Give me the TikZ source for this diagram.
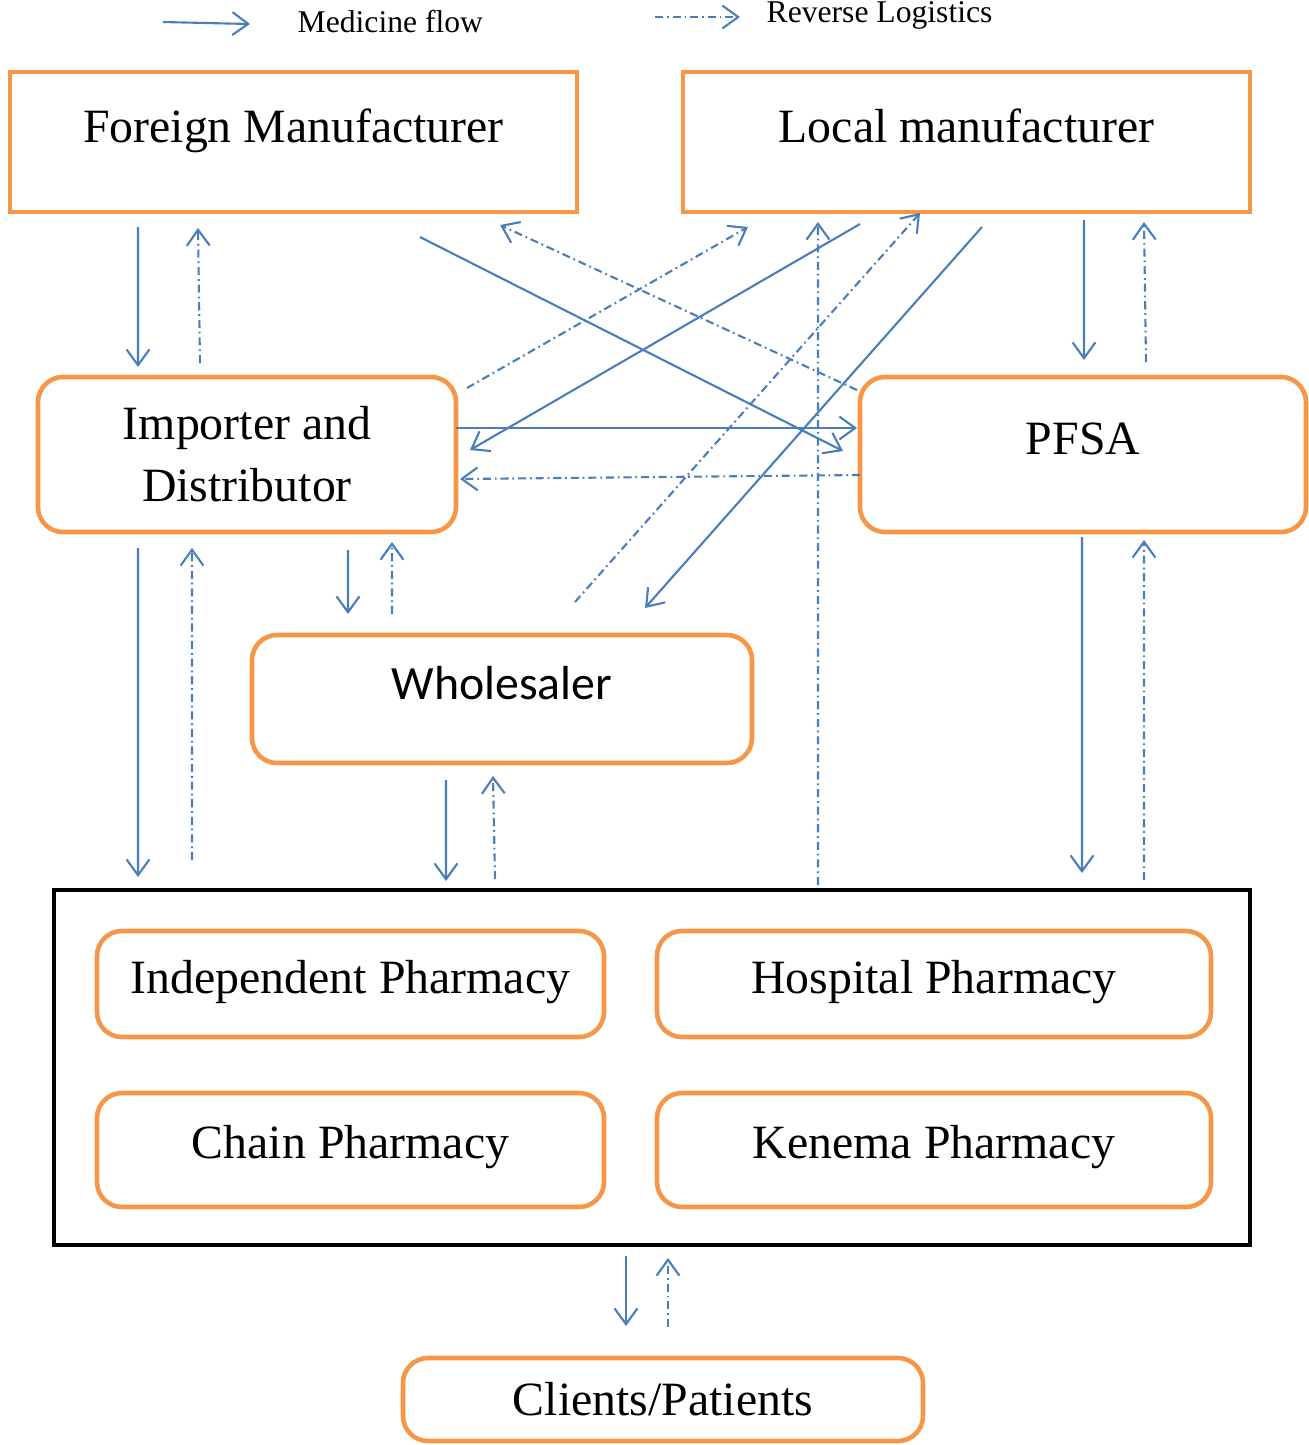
\documentclass[tikz,border=0pt]{standalone}
\usepackage{fontspec}
\setmainfont{Liberation Serif}
\newfontfamily\wsfont{Carlito}
\usetikzlibrary{arrows.meta}
\definecolor{boxorange}{HTML}{F79646}
\definecolor{flowblue}{HTML}{4A7EBB}
\begin{document}
\begin{tikzpicture}[
  box/.style={draw=boxorange, line width=1.3pt, rectangle, inner sep=0pt, outer sep=0pt, font=\fontsize{13.6}{17.6}\selectfont},
  roundbox/.style={box, rounded corners=0.25cm},
  flow/.style={flowblue, line width=0.6pt, -{Straight Barb[length=4.5pt,width=6.5pt]}},
  back/.style={flow, dash pattern=on 2.3pt off 1.1pt on 0.5pt off 1.1pt},
  legend/.style={inner sep=0pt, font=\fontsize{9}{11}\selectfont}]
  \useasboundingbox (0,0) rectangle (13.09,-14.45);

  \node[legend, anchor=west] (legflow) at (2.97,-0.22) {Medicine flow};
  \node[legend, anchor=west] (legrev) at (7.66,-0.15) {Reverse Logistics};
  \draw[flow] ([xshift=-1.34cm,yshift=0.0cm]legflow.west) -- ([xshift=-0.47cm,yshift=-0.02cm]legflow.west);
  \draw[back] ([xshift=-1.11cm,yshift=-0.02cm]legrev.west) -- ([xshift=-0.26cm,yshift=-0.02cm]legrev.west);

  \node[box, minimum width=5.67cm, minimum height=1.40cm, text height=9.5pt, text depth=9.5pt] (fm) at (2.935,-1.42) {Foreign Manufacturer};
  \node[box, minimum width=5.67cm, minimum height=1.40cm, text height=9.5pt, text depth=9.5pt] (lm) at (9.665,-1.42) {Local manufacturer};
  \node[roundbox, minimum width=4.18cm, minimum height=1.55cm, align=center] (imp) at (2.47,-4.545) {Importer and\\Distributor};
  \node[roundbox, minimum width=4.46cm, minimum height=1.55cm, text depth=9pt] (pfsa) at (10.83,-4.545) {PFSA};
  \node[roundbox, minimum width=5.00cm, minimum height=1.28cm, text depth=9pt, font=\wsfont\fontsize{13.6}{16}\selectfont] (whl) at (5.02,-6.99) {Wholesaler};

  \node[draw=black, line width=1.2pt, minimum width=11.96cm, minimum height=3.55cm, inner sep=0pt, outer sep=0pt] (shops) at (6.52,-10.675) {};
  \node[roundbox, minimum width=5.07cm, minimum height=1.06cm, text depth=4pt] (indep) at (3.505,-9.84) {Independent Pharmacy};
  \node[roundbox, minimum width=5.54cm, minimum height=1.06cm, text depth=4pt] (hosp) at (9.34,-9.84) {Hospital Pharmacy};
  \node[roundbox, minimum width=5.07cm, minimum height=1.14cm, text depth=4.5pt] (chain) at (3.505,-11.50) {Chain Pharmacy};
  \node[roundbox, minimum width=5.54cm, minimum height=1.14cm, text depth=4.5pt] (kenema) at (9.34,-11.50) {Kenema Pharmacy};
  \node[roundbox, minimum width=5.20cm, minimum height=0.83cm] (clients) at (6.63,-13.995) {Clients/Patients};

  \draw[flow] ([xshift=1.28cm,yshift=-0.15cm]fm.south west) -- ([xshift=1.00cm,yshift=0.10cm]imp.north west);
  \draw[back] ([xshift=1.62cm,yshift=0.14cm]imp.north west) -- ([xshift=1.88cm,yshift=-0.16cm]fm.south west);
  \draw[flow] ([xshift=4.10cm,yshift=-0.25cm]fm.south west) -- ([xshift=-0.17cm,yshift=0.035cm]pfsa.west);
  \draw[back] ([xshift=-0.03cm,yshift=-0.13cm]pfsa.north west) -- ([xshift=4.90cm,yshift=-0.13cm]fm.south west);
  \draw[back] ([xshift=0.11cm,yshift=-0.11cm]imp.north east) -- ([xshift=0.65cm,yshift=-0.15cm]lm.south west);
  \draw[flow] ([xshift=1.77cm,yshift=-0.12cm]lm.south west) -- ([xshift=0.14cm,yshift=0.045cm]imp.east);
  \draw[flow] ([yshift=0.265cm]imp.east) -- ([xshift=-0.03cm,yshift=0.265cm]pfsa.west);
  \draw[back] ([yshift=-0.205cm]pfsa.west) -- ([xshift=0.04cm,yshift=-0.245cm]imp.east);
  \draw[back] ([xshift=0.73cm,yshift=0.33cm]whl.north) -- ([xshift=2.37cm,yshift=-0.01cm]lm.south west);
  \draw[flow] ([xshift=2.99cm,yshift=-0.15cm]lm.south west) -- ([xshift=1.43cm,yshift=0.27cm]whl.north);
  \draw[back] ([xshift=7.64cm,yshift=0.05cm]shops.north west) -- ([xshift=1.35cm,yshift=-0.10cm]lm.south west);
  \draw[flow] ([xshift=4.01cm,yshift=-0.08cm]lm.south west) -- ([xshift=2.24cm,yshift=0.17cm]pfsa.north west);
  \draw[back] ([xshift=2.86cm,yshift=0.15cm]pfsa.north west) -- ([xshift=4.61cm,yshift=-0.10cm]lm.south west);

  \draw[flow] ([xshift=1.00cm,yshift=-0.16cm]imp.south west) -- ([xshift=0.84cm,yshift=0.13cm]shops.north west);
  \draw[back] ([xshift=1.38cm,yshift=0.30cm]shops.north west) -- ([xshift=1.54cm,yshift=-0.16cm]imp.south west);
  \draw[flow] ([xshift=3.10cm,yshift=-0.18cm]imp.south west) -- ([xshift=0.96cm,yshift=0.21cm]whl.north west);
  \draw[back] ([xshift=1.40cm,yshift=0.21cm]whl.north west) -- ([xshift=3.54cm,yshift=-0.10cm]imp.south west);
  \draw[flow] ([xshift=1.94cm,yshift=-0.17cm]whl.south west) -- ([xshift=3.92cm,yshift=0.09cm]shops.north west);
  \draw[back] ([xshift=4.41cm,yshift=0.11cm]shops.north west) -- ([xshift=2.41cm,yshift=-0.13cm]whl.south west);
  \draw[flow] ([xshift=2.22cm,yshift=-0.05cm]pfsa.south west) -- ([xshift=10.28cm,yshift=0.17cm]shops.north west);
  \draw[back] ([xshift=10.90cm,yshift=0.10cm]shops.north west) -- ([xshift=2.84cm,yshift=-0.08cm]pfsa.south west);
  \draw[flow] ([xshift=5.72cm,yshift=-0.11cm]shops.south west) -- ([xshift=2.23cm,yshift=0.32cm]clients.north west);
  \draw[back] ([xshift=2.65cm,yshift=0.31cm]clients.north west) -- ([xshift=6.14cm,yshift=-0.13cm]shops.south west);
\end{tikzpicture}
\end{document}
